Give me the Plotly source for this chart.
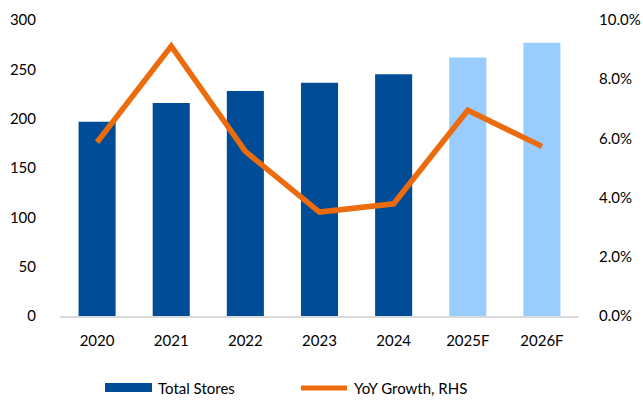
import plotly.graph_objects as go

years = ["2020", "2021", "2022", "2023", "2024", "2025F", "2026F"]
total_stores = [197, 216, 228, 236.5, 245, 262, 277]
yoy_growth = [5.87, 9.12, 5.56, 3.51, 3.79, 6.95, 5.73]
bar_colors = ["#004C97"] * 5 + ["#99CCFF"] * 2
legend_names = ["Total Stores", "YoY Growth, RHS"]

font = "Lato, Open Sans, sans-serif"
W, H = 643, 400
L, R, T, B = 60, 64, 20, 84
pw, ph = W - L - R, H - T - B


def px(x):
    return (x - L) / pw


def py(y):
    return (H - B - y) / ph


fig = go.Figure()
fig.add_trace(go.Bar(
    x=years, y=total_stores, name=legend_names[0],
    marker=dict(color=bar_colors, line=dict(width=0)),
    yaxis="y",
))
fig.add_trace(go.Scatter(
    x=years, y=yoy_growth, name=legend_names[1], mode="lines",
    line=dict(color="#EC6B0C", width=5.5),
    yaxis="y2",
))

# manual legend (Excel-style wide swatches)
fig.add_shape(type="rect", xref="paper", yref="paper",
              x0=px(105), x1=px(152), y0=py(392), y1=py(383),
              fillcolor="#004C97", line=dict(width=0))
fig.add_shape(type="line", xref="paper", yref="paper",
              x0=px(301), x1=px(347), y0=py(388), y1=py(388),
              line=dict(color="#EC6B0C", width=5))
fig.add_annotation(text=legend_names[0], xref="paper", yref="paper",
                   x=px(156), y=py(388), xanchor="left", yanchor="middle",
                   showarrow=False, font=dict(size=15))
fig.add_annotation(text=legend_names[1], xref="paper", yref="paper",
                   x=px(352), y=py(388), xanchor="left", yanchor="middle",
                   showarrow=False, font=dict(size=15))

fig.update_layout(
    width=W, height=H,
    margin=dict(l=L, r=R, t=T, b=B),
    paper_bgcolor="white", plot_bgcolor="white",
    font=dict(family=font, size=15, color="#000000"),
    bargap=0.5,
    showlegend=False,
    xaxis=dict(showline=True, linecolor="#D9D9D9", linewidth=2, automargin=False,
               showgrid=False, ticks="outside", ticklen=10, tickcolor="rgba(0,0,0,0)"),
    yaxis=dict(range=[0, 300], dtick=50, showgrid=False, zeroline=False, automargin=False,
               ticks="outside", ticklen=20, tickcolor="rgba(0,0,0,0)"),
    yaxis2=dict(range=[0, 10], dtick=2, overlaying="y", side="right", automargin=False,
                showgrid=False, zeroline=False, ticksuffix="%", tickformat=".1f",
                ticks="outside", ticklen=16, tickcolor="rgba(0,0,0,0)"),
)

fig.write_html("out.html", config={"displayModeBar": False},
               post_script="document.body.style.margin='0';")
